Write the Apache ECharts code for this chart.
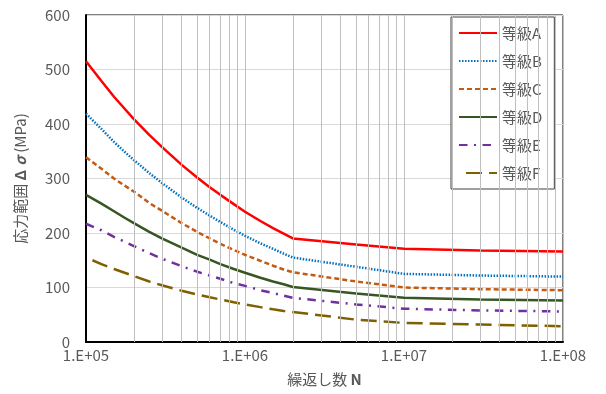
<!DOCTYPE html>
<html>
<head>
<meta charset="utf-8">
<title>S-N</title>
<script src="https://cdn.jsdelivr.net/npm/echarts@6/dist/echarts.min.js"></script>
<style>
	html, body { margin: 0; padding: 0; background: #fff; }
	#main { width: 606px; height: 394px; }
</style>
</head>
<body>
<div id="main"></div>
<script>
// 繰返し数
var cycles = [1e5, 1.25e5, 1.5e5, 1.75e5, 2e5, 2.5e5, 3e5, 4e5, 5e5, 6e5, 7e5, 8.5e5,
	1e6, 1.25e6, 1.5e6, 1.75e6, 2e6, 5e6, 1e7, 3e7, 1e8];
// 応力範囲 (MPa)
var gradeA = [515, 479, 450, 428, 409, 380, 358, 325, 302, 284, 270, 253,
	239, 222, 209, 199, 190, 179, 171, 168, 166];
var gradeB = [419, 391, 367, 349, 334, 310, 292, 265, 246, 232, 220, 206,
	195, 181, 171, 162, 155, 138, 125, 122, 120];
var gradeC = [339, 318, 300, 287, 276, 255, 241, 218, 202, 190, 180, 169,
	160, 149, 140, 133, 128, 111, 100, 97, 95];
var gradeD = [270, 254, 240, 228, 218, 202, 190, 173, 160, 151, 143, 134,
	127, 118, 111, 106, 101, 89, 81, 78, 76];
var gradeE = [217, 205, 193, 184, 176, 163, 153, 139, 129, 122, 116, 108,
	103, 95, 90, 85, 81, 69, 61, 58, 56];
var gradeF = [155, 143, 134, 127, 121, 111, 104, 94, 87, 82, 78, 73,
	69, 64, 60, 57, 55, 41, 35, 32, 29];
var gradeNames = ['等級A', '等級B', '等級C', '等級D', '等級E', '等級F'];
// 対数目盛の補助線
var minorTicks = [2e5, 3e5, 4e5, 5e5, 6e5, 7e5, 8e5, 9e5,
	2e6, 3e6, 4e6, 5e6, 6e6, 7e6, 8e6, 9e6,
	2e7, 3e7, 4e7, 5e7, 6e7, 7e7, 8e7, 9e7];
var yTicks = [0, 100, 200, 300, 400, 500, 600];

var FONT = '"Noto Sans CJK JP", "Noto Sans", sans-serif';

function pairs(vals) {
	var out = [];
	for (var i = 0; i < cycles.length; i++) {
		out.push([cycles[i], vals[i]]);
	}
	return out;
}

function makeLine(name, vals, color, type, extra) {
	var ls = {
		color: color,
		width: 2.5,
		type: type
	};
	if (extra) {
		for (var k in extra) ls[k] = extra[k];
	}
	return {
		name: name,
		type: 'line',
		data: pairs(vals),
		symbol: 'none',
		showSymbol: false,
		smooth: false,
		z: 3,
		itemStyle: { color: color },
		lineStyle: ls
	};
}

var myChart = echarts.init(document.getElementById('main'), null, { renderer: 'canvas' });
var option = {
	animation: false,
	backgroundColor: '#fff',
	textStyle: { fontFamily: FONT },
	grid: {
		left: 86,
		right: 43,
		top: 15,
		bottom: 52,
		show: true,
		borderColor: '#000',
		borderWidth: 1
	},
	legend: {
		data: gradeNames,
		orient: 'vertical',
		left: 451,
		top: 17,
		padding: [8, 12, 8, 7],
		itemWidth: 38,
		itemHeight: 14,
		itemGap: 12,
		backgroundColor: '#fff',
		borderColor: '#404040',
		borderWidth: 1,
		itemStyle: { color: 'transparent', borderWidth: 0, opacity: 0 },
		textStyle: {
			color: '#595959',
			fontSize: 15,
			lineHeight: 16,
			fontFamily: FONT
		}
	},
	xAxis: {
		type: 'log',
		logBase: 10,
		min: 1e5,
		max: 1e8,
		name: '繰返し数 {b|N}',
		nameLocation: 'middle',
		nameGap: 30,
		nameTextStyle: {
			color: '#595959',
			fontSize: 15,
			fontFamily: FONT,
			rich: {
				b: { fontWeight: 'bold', fontSize: 15, color: '#595959', fontFamily: FONT }
			}
		},
		axisLine: { lineStyle: { color: '#000', width: 2 } },
		axisTick: { show: false },
		axisLabel: {
			color: '#595959',
			fontSize: 15,
			margin: 6,
			formatter: function (v) {
				var e = Math.round(Math.log(v) / Math.LN10);
				return '1.E+' + (e < 10 ? '0' + e : e);
			}
		},
		splitLine: { show: true, lineStyle: { color: '#bfbfbf', width: 1 } }
	},
	yAxis: {
		type: 'value',
		min: yTicks[0],
		max: yTicks[yTicks.length - 1],
		interval: 100,
		name: '応力範囲 {b|Δ}{i|σ} (MPa)',
		nameLocation: 'middle',
		nameGap: 58,
		nameTextStyle: {
			color: '#595959',
			fontSize: 15,
			fontFamily: FONT,
			rich: {
				b: { fontWeight: 'bold', fontSize: 15, color: '#595959', fontFamily: FONT },
				i: { fontWeight: 'bold', fontStyle: 'italic', fontSize: 15, color: '#595959', fontFamily: FONT, padding: [0, 0, 0, 4] }
			}
		},
		axisLine: { show: true, lineStyle: { color: '#000', width: 2 } },
		axisTick: { show: false },
		axisLabel: { color: '#595959', fontSize: 15, margin: 16 },
		splitLine: { lineStyle: { color: '#d9d9d9', width: 1 } }
	},
	series: [
		{
			name: 'minor',
			type: 'line',
			data: [],
			z: 1,
			silent: true,
			markLine: {
				silent: true,
				symbol: 'none',
				animation: false,
				label: { show: false },
				lineStyle: { color: '#bfbfbf', width: 1, type: 'solid' },
				data: minorTicks.map(function (v) { return { xAxis: v }; })
			}
		},
		makeLine(gradeNames[0], gradeA, '#ff0000', 'solid'),
		makeLine(gradeNames[1], gradeB, '#0070c0', [1.5, 1.5]),
		makeLine(gradeNames[2], gradeC, '#c55a11', [5, 3]),
		makeLine(gradeNames[3], gradeD, '#375623', 'solid'),
		makeLine(gradeNames[4], gradeE, '#7030a0', [8.5, 6.5, 2, 6.5]),
		makeLine(gradeNames[5], gradeF, '#7f6000', [16, 7], { dashOffset: 16 })
	]
};
myChart.setOption(option);
</script>
</body>
</html>
